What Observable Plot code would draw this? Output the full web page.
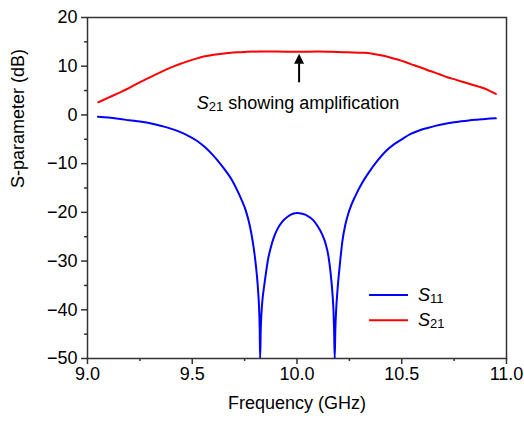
<!DOCTYPE html>
<html>
<head>
<meta charset="utf-8">
<script src="https://cdn.jsdelivr.net/npm/d3@7"></script>
<script src="https://cdn.jsdelivr.net/npm/@observablehq/plot@0.6"></script>
<style>
  html, body { margin: 0; padding: 0; background: #fff; }
  #chart svg { display: block; }
</style>
</head>
<body>
<div id="chart"></div>
<script>
// ---- Data ----
const freqS11 = [9.05, 9.10, 9.156, 9.20, 9.25, 9.315, 9.37, 9.426, 9.475, 9.522, 9.56, 9.601, 9.635, 9.665, 9.69, 9.716, 9.736, 9.756, 9.775, 9.788, 9.80, 9.808, 9.815, 9.819, 9.822, 9.824, 9.827, 9.830, 9.835, 9.843, 9.851, 9.862, 9.875, 9.89, 9.907, 9.93, 9.955, 9.98, 10.002, 10.025, 10.05, 10.075, 10.098, 10.12, 10.137, 10.15, 10.161, 10.169, 10.174, 10.177, 10.180, 10.183, 10.187, 10.193, 10.205, 10.217, 10.232, 10.249, 10.28, 10.31, 10.34, 10.384, 10.42, 10.464, 10.50, 10.543, 10.58, 10.623, 10.66, 10.702, 10.75, 10.782, 10.82, 10.861, 10.90, 10.949];
const s11 = [-0.35, -0.55, -0.83, -1.1, -1.35, -1.86, -2.45, -3.23, -4.15, -5.29, -6.6, -8.37, -10.1, -11.8, -13.4, -15.6, -17.5, -19.7, -22.8, -25.8, -29.5, -32.7, -36.5, -39.6, -44, -50, -44, -41, -38, -35.2, -32.7, -29.6, -27.2, -25.1, -23.4, -21.9, -20.9, -20.3, -20.15, -20.3, -20.7, -21.5, -22.8, -24.5, -26.5, -29, -32.7, -36.5, -40, -44, -50, -44, -40, -36.1, -30.5, -25.8, -22.3, -19.7, -16.5, -14.0, -12.0, -9.4, -7.6, -6.0, -5.0, -3.9, -3.25, -2.68, -2.25, -1.86, -1.5, -1.32, -1.13, -0.97, -0.83, -0.70];

const freqS21 = [9.052, 9.10, 9.156, 9.20, 9.235, 9.275, 9.315, 9.355, 9.394, 9.435, 9.474, 9.515, 9.554, 9.595, 9.633, 9.673, 9.713, 9.76, 9.82, 9.90, 10.0, 10.10, 10.162, 10.24, 10.32, 10.36, 10.40, 10.44, 10.48, 10.52, 10.559, 10.60, 10.639, 10.68, 10.718, 10.76, 10.798, 10.84, 10.877, 10.915, 10.949];
const s21 = [2.6, 3.55, 4.64, 5.55, 6.37, 7.25, 8.08, 8.9, 9.66, 10.35, 10.95, 11.5, 11.98, 12.3, 12.53, 12.72, 12.87, 12.95, 13.0, 13.0, 12.95, 13.0, 12.95, 12.85, 12.74, 12.55, 12.25, 11.85, 11.37, 10.8, 10.2, 9.58, 8.96, 8.35, 7.73, 7.2, 6.7, 6.15, 5.67, 5.05, 4.31];

const seriesNames = ["S11", "S21"];
const seriesColors = ["#0000ff", "#ff0000"];

const majorX = [9.0, 9.5, 10.0, 10.5, 11.0];
const minorX = [9.25, 9.75, 10.25, 10.75];
const majorY = [-50, -40, -30, -20, -10, 0, 10, 20];
const minorY = [-45, -35, -25, -15, -5, 5, 15];

const xLabel = "Frequency (GHz)";
const yLabel = "S-parameter (dB)";
const annotation = "S21 showing amplification";

// annotation / legend anchors (in data units)
const arrowX = 10.01, arrowFrom = 6.7, arrowTo = 12.54, arrowHeadBase = 10.6;
const annotX = 10.005, annotY = 2.42;
const legendX1 = 10.344, legendX2 = 10.53, legendTextX = 10.578;
const legendYs = [-36.95, -42.15];

// ---- Build tables ----
const dataS11 = freqS11.map((f, i) => ({f, v: s11[i]}));
const dataS21 = freqS21.map((f, i) => ({f, v: s21[i]}));
const legend = seriesNames.map((name, i) => ({name, color: seriesColors[i], y: legendYs[i]}));

const headSymbol = {
  draw(ctx, size) {
    const h = 10, w = 5;
    ctx.moveTo(0, 0);
    ctx.lineTo(-w, h);
    ctx.lineTo(w, h);
    ctx.closePath();
  }
};

const axisColor = "#333";
const font = "'Liberation Sans', Arial, Helvetica, sans-serif";

const chart = Plot.plot({
  width: 524,
  height: 421,
  marginLeft: 87,
  marginRight: 18,
  marginTop: 17,
  marginBottom: 63,
  style: {fontFamily: font, fontSize: "18px", color: "#000", background: "#fff", overflow: "visible"},
  x: {domain: [9, 11]},
  y: {domain: [-50, 20]},
  marks: [
    Plot.line(dataS11, {x: "f", y: "v", stroke: seriesColors[0], strokeWidth: 2, curve: "monotone-x", clip: true}),
    Plot.line(dataS21, {x: "f", y: "v", stroke: seriesColors[1], strokeWidth: 2, curve: "monotone-x", clip: true}),
    Plot.frame({stroke: axisColor, strokeWidth: 1.5}),
    Plot.axisX({ticks: majorX, tickSize: 6, tickPadding: 3, tickFormat: d3.format(".1f"), label: null, stroke: axisColor, strokeWidth: 1.5, fontSize: 18}),
    Plot.axisX({ticks: minorX, tickSize: 3, text: null, label: null, stroke: axisColor, strokeWidth: 1.5}),
    Plot.axisY({ticks: majorY, tickSize: 6, tickPadding: 4, label: null, stroke: axisColor, strokeWidth: 1.5, fontSize: 18}),
    Plot.axisY({ticks: minorY, tickSize: 3, text: null, label: null, stroke: axisColor, strokeWidth: 1.5}),
    Plot.text([xLabel], {frameAnchor: "bottom", dy: 50, fontSize: 18, fill: "#000"}),
    Plot.text([yLabel], {frameAnchor: "left", dx: -69, rotate: -90, fontSize: 18, fill: "#000"}),
    // arrow annotation
    Plot.link([0], {x1: () => arrowX, x2: () => arrowX, y1: () => arrowFrom, y2: () => arrowHeadBase, stroke: "#000", strokeWidth: 2}),
    Plot.dot([0], {x: () => arrowX, y: () => arrowTo, symbol: headSymbol, fill: "#000", stroke: "none", r: 5}),
    Plot.text([annotation], {x: () => annotX, y: () => annotY, fontSize: 18, fill: "#000", className: "sub-text"}),
    // legend
    Plot.link(legend, {x1: () => legendX1, x2: () => legendX2, y1: "y", y2: "y", stroke: "color", strokeWidth: 2}),
    Plot.text(legend, {x: () => legendTextX, y: "y", text: "name", textAnchor: "start", fontSize: 18, fill: "#000", className: "sub-text"})
  ]
});

// subscripts: "S11" -> italic S + subscript digits
d3.select(chart).selectAll(".sub-text text").each(function() {
  const t = this.textContent;
  const m = t.match(/^S(\d+)(.*)$/);
  if (!m) return;
  const sel = d3.select(this);
  sel.text(null);
  sel.append("tspan").attr("font-style", "italic").text("S");
  sel.append("tspan").attr("font-size", "13px").attr("dy", "2").text(m[1]);
  if (m[2]) sel.append("tspan").attr("dy", "-2").text(m[2]);
});

document.getElementById("chart").appendChild(chart);
</script>
</body>
</html>
